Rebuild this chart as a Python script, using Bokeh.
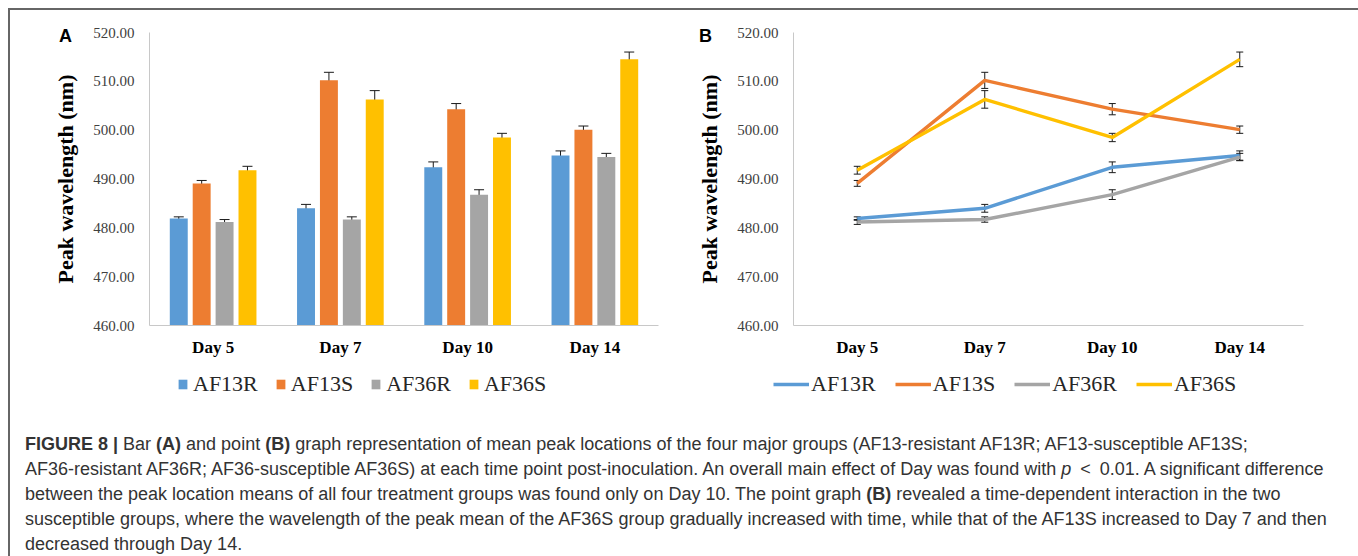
from bokeh.plotting import figure
from bokeh.models import (Range1d, FixedTicker, NumeralTickFormatter, ColumnDataSource,
                          Whisker, TeeHead, Legend, LegendItem, Label, Div)
from bokeh.transform import dodge
from bokeh.layouts import row, column
from bokeh.embed import file_html
from bokeh.resources import INLINE

# ---------------- data ----------------
days = ["Day 5", "Day 7", "Day 10", "Day 14"]
groups = ["AF13R", "AF13S", "AF36R", "AF36S"]
af13r = [481.9, 484.0, 492.4, 494.8]
af13s = [489.1, 510.2, 504.3, 500.1]
af36r = [481.2, 481.7, 486.8, 494.5]
af36s = [491.8, 506.3, 498.5, 514.5]
af13r_err = [0.35, 0.8, 1.1, 0.95]
af13s_err = [0.6, 1.65, 1.15, 0.75]
af36r_err = [0.5, 0.55, 1.0, 0.75]
af36s_err = [0.8, 1.8, 0.85, 1.5]
y_ticks = [460, 470, 480, 490, 500, 510, 520]
y_label = "Peak wavelength (nm)"
caption_lines = [
    "<b>FIGURE 8 |</b> Bar <b>(A)</b> and point <b>(B)</b> graph representation of mean peak locations of the four major groups (AF13-resistant AF13R; AF13-susceptible AF13S;",
    "AF36-resistant AF36R; AF36-susceptible AF36S) at each time point post-inoculation. An overall main effect of Day was found with <i>p</i>&ensp;&lt;&ensp;0.01. A significant difference",
    "between the peak location means of all four treatment groups was found only on Day 10. The point graph <b>(B)</b> revealed a time-dependent interaction in the two",
    "susceptible groups, where the wavelength of the peak mean of the AF36S group gradually increased with time, while that of the AF13S increased to Day 7 and then",
    "decreased through Day 14.",
]

colors = ["#5B9BD5", "#ED7D31", "#A5A5A5", "#FFC000"]
values = [af13r, af13s, af36r, af36s]
errors = [af13r_err, af13s_err, af36r_err, af36s_err]
day_pos = list(range(len(days)))
SERIF = "Liberation Serif"

FIG_H = 398
FRAME_TOP = 22      # px from figure top to the 520 line
FRAME_BOT = 315     # px from figure top to the 460 line


def make_fig(width, axis_left, axis_width):
    """Figure whose frame covers the whole canvas; axes are fixed at data positions."""
    ux = axis_width / len(days)                      # px per day slot
    x0 = day_pos[0] - 0.5
    x1 = day_pos[-1] + 0.5
    xr = Range1d(x0 - axis_left / ux, x1 + (width - axis_left - axis_width) / ux)
    uy = (FRAME_BOT - FRAME_TOP) / (y_ticks[-1] - y_ticks[0])
    yr = Range1d(y_ticks[0] - (FIG_H - FRAME_BOT) / uy, y_ticks[-1] + FRAME_TOP / uy)
    p = figure(width=width, height=FIG_H, x_range=xr, y_range=yr, output_backend="svg",
               toolbar_location=None, min_border=0, min_border_left=0, min_border_right=0,
               min_border_top=0, min_border_bottom=0)
    p.outline_line_color = None
    p.xgrid.visible = False
    p.ygrid.visible = False
    p.background_fill_color = "white"
    p.border_fill_color = "white"

    ya = p.yaxis[0]
    ya.fixed_location = x0
    ya.bounds = (y_ticks[0], y_ticks[-1])
    ya.ticker = FixedTicker(ticks=y_ticks)
    ya.formatter = NumeralTickFormatter(format="0.00")
    ya.major_tick_line_color = None
    ya.minor_tick_line_color = None
    ya.major_tick_in = 0
    ya.major_tick_out = 0
    ya.major_label_standoff = 15
    ya.major_label_text_font = SERIF
    ya.major_label_text_font_size = "15px"
    ya.major_label_text_color = "#404040"
    ya.axis_line_color = "#C8C8C8"
    ya.axis_label = y_label
    ya.axis_label_text_font = SERIF
    ya.axis_label_text_font_style = "bold"
    ya.axis_label_text_font_size = "22px"
    ya.axis_label_text_color = "black"
    ya.axis_label_standoff = 12

    xa = p.xaxis[0]
    xa.fixed_location = y_ticks[0]
    xa.bounds = (x0, x1)
    xa.ticker = FixedTicker(ticks=day_pos)
    xa.major_label_overrides = {i: d for i, d in zip(day_pos, days)}
    xa.major_tick_line_color = None
    xa.minor_tick_line_color = None
    xa.major_tick_in = 0
    xa.major_tick_out = 0
    xa.major_label_standoff = 12
    xa.major_label_text_font = SERIF
    xa.major_label_text_font_style = "bold"
    xa.major_label_text_font_size = "17px"
    xa.major_label_text_color = "black"
    xa.axis_line_color = "#C8C8C8"
    return p, ux, uy, xr, yr


def px_x(xr, ux, px):
    return xr.start + px / ux


def px_y(yr, uy, py):
    return yr.end - py / uy


# ---------------- panel A ----------------
pA, uxA, uyA, xrA, yrA = make_fig(670, 139, 509)
step = 0.18
items_a = []
for i, (g, vals, errs, c) in enumerate(zip(groups, values, errors, colors)):
    off = (i - 1.5) * step
    src = ColumnDataSource(dict(x=day_pos, val=vals,
                                upper=[v + e for v, e in zip(vals, errs)],
                                lower=[v - e for v, e in zip(vals, errs)]))
    r = pA.vbar(x=dodge("x", off), top="val", bottom=y_ticks[0],
                width=0.141, source=src, fill_color=c, line_color=None)
    w = Whisker(source=src, base=dodge("x", off), upper="upper", lower="lower",
                line_color="#1a1a1a", line_width=1,
                upper_head=TeeHead(size=10, line_color="#1a1a1a", line_width=1),
                lower_head=TeeHead(size=10, line_color="#1a1a1a", line_width=1))
    pA.add_layout(w)
    items_a.append(LegendItem(label=g, renderers=[r]))

legA = Legend(items=items_a, location=(167, 11), orientation="horizontal",
              glyph_width=11, glyph_height=12, label_standoff=5, spacing=17,
              padding=0, margin=0, border_line_color=None, background_fill_alpha=0,
              label_text_font=SERIF, label_text_font_size="22px", label_text_color="#262626",
              label_height=20)
pA.add_layout(legA, "center")
pA.add_layout(Label(x=px_x(xrA, uxA, 55), y=px_y(yrA, uyA, 25.5), text="A",
                    text_font="Liberation Sans", text_font_style="bold",
                    text_font_size="18px", text_align="center", text_baseline="middle",
                    text_color="black"))

# ---------------- panel B ----------------
pB, uxB, uyB, xrB, yrB = make_fig(672, 113, 510)
items_b = []
for g, vals, errs, c in zip(groups, values, errors, colors):
    src = ColumnDataSource(dict(x=day_pos, val=vals))
    r = pB.line(x="x", y="val", source=src, line_color=c, line_width=3.4, line_join="round")
    items_b.append(LegendItem(label=g, renderers=[r]))
for g, vals, errs, c in zip(groups, values, errors, colors):
    src = ColumnDataSource(dict(x=day_pos,
                                upper=[v + e for v, e in zip(vals, errs)],
                                lower=[v - e for v, e in zip(vals, errs)]))
    w = Whisker(source=src, base="x", upper="upper", lower="lower",
                line_color="#1a1a1a", line_width=1,
                upper_head=TeeHead(size=7, line_color="#1a1a1a", line_width=1),
                lower_head=TeeHead(size=7, line_color="#1a1a1a", line_width=1))
    pB.add_layout(w)

legB = Legend(items=items_b, location=(93, 11), orientation="horizontal",
              glyph_width=36, glyph_height=12, label_standoff=2, spacing=19,
              padding=0, margin=0, border_line_color=None, background_fill_alpha=0,
              label_text_font=SERIF, label_text_font_size="22px", label_text_color="#262626",
              label_height=20)
pB.add_layout(legB, "center")
pB.add_layout(Label(x=px_x(xrB, uxB, 25), y=px_y(yrB, uyB, 25.5), text="B",
                    text_font="Liberation Sans", text_font_style="bold",
                    text_font_size="18px", text_align="center", text_baseline="middle",
                    text_color="black"))

# ---------------- caption ----------------
cap_html = ('<div style="font-family: \'Liberation Sans\', Arial, sans-serif; font-size: 18px; '
            'line-height: 25px; color: #333; padding: 19px 0 0 10px; white-space: nowrap;">'
            + "<br>".join(caption_lines) + "</div>")
cap = Div(text=cap_html, width=1342, height=144)

layout = column(row(pA, pB), cap,
                styles={"border-top": "2px solid #666", "border-left": "2px solid #666",
                        "border-right": "2px solid #666", "margin-left": "8px",
                        "margin-top": "8px"})

open("out.html", "w").write(file_html(layout, INLINE))
